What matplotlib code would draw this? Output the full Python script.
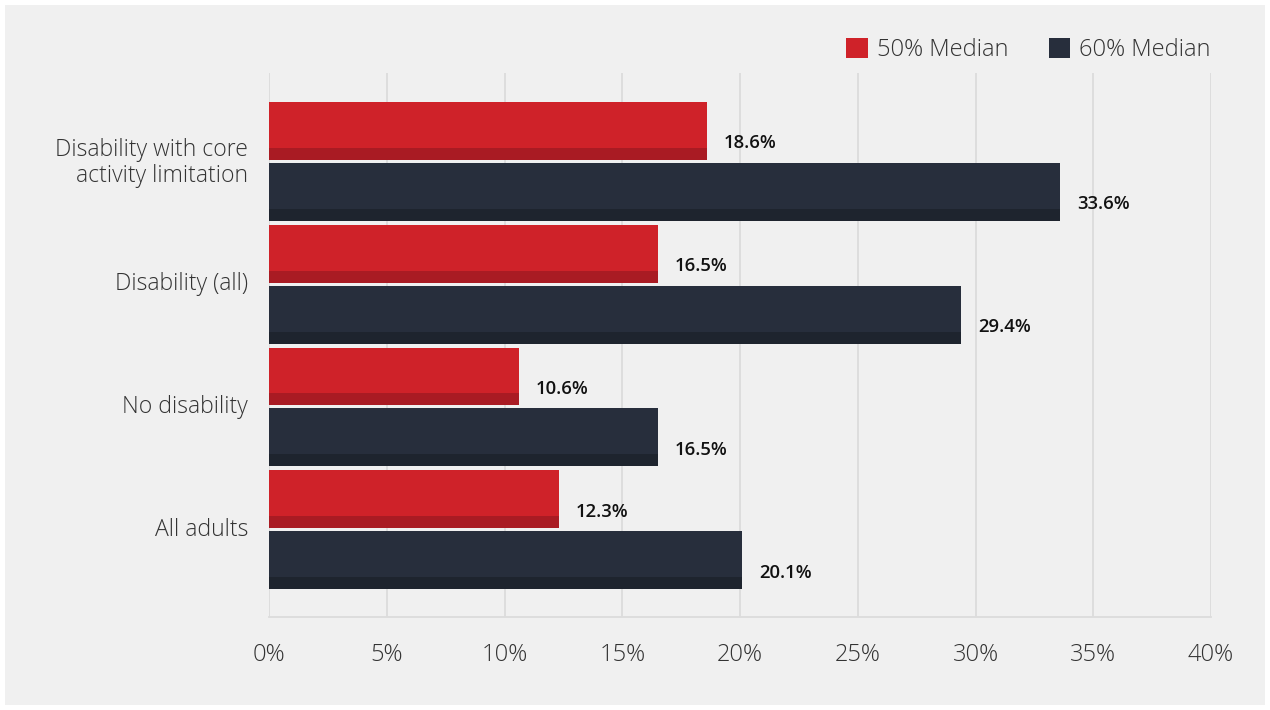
import numpy as np
import matplotlib
matplotlib.use("Agg")
import matplotlib.pyplot as plt
import matplotlib.transforms as mtrans
from matplotlib.patches import Rectangle, Patch

matplotlib.rc('font', family=['Open Sans', 'DejaVu Sans'])

categories = ["Disability with core\nactivity limitation", "Disability (all)",
              "No disability", "All adults"]
median50 = [18.6, 16.5, 10.6, 12.3]
median60 = [33.6, 29.4, 16.5, 20.1]
series_names = ["50% Median", "60% Median"]
xticks = [0, 5, 10, 15, 20, 25, 30, 35, 40]

RED, RED_SH = '#cf2229', '#a91b23'
NAVY, NAVY_SH = '#272e3c', '#1e242e'

fig = plt.figure(figsize=(12.7, 7.1), dpi=100, facecolor='white')
fig.patches.append(Rectangle((5 / 1270, 5 / 710), 1260 / 1270, 700 / 710,
                             transform=fig.transFigure, facecolor='#f0f0f0',
                             edgecolor='none', zorder=-10))
ax = fig.add_axes([269 / 1270, 93 / 710, 942 / 1270, 544 / 710])
ax.set_facecolor('none')

pos = np.arange(len(categories))[::-1].astype(float)
off = 0.248
h = 0.472
sh = 0.098

for vals, yc, col, shc in [(median50, pos + off, RED, RED_SH),
                           (median60, pos - off, NAVY, NAVY_SH)]:
    ax.barh(yc, vals, height=h, color=col, zorder=3)
    ax.barh(yc - h / 2 + sh / 2, vals, height=sh, color=shc, zorder=4)
    for v, y in zip(vals, yc):
        ax.annotate(f"{v:.1f}%", (v, y), xytext=(12, -9), textcoords='offset points',
                    ha='left', va='center', fontsize=13.3, fontweight='semibold',
                    color='#111111')

ax.set_xlim(0, 40)
ax.set_ylim(-0.711, 3.72)
ax.set_xticks(xticks)
ax.set_xticklabels([f"{t}%" for t in xticks], fontsize=17, fontweight='light', color='#333333')
ax.set_yticks(pos)
ax.set_yticklabels(categories, fontsize=16.6, fontweight='light', color='#333333',
                   linespacing=1.13)
ax.tick_params(axis='both', length=0)
ax.tick_params(axis='x', pad=19)
ax.tick_params(axis='y', pad=15)
# nudge labels up a little, as in the original
shift = mtrans.ScaledTranslation(0, 2 / 72, fig.dpi_scale_trans)
for lab in ax.get_yticklabels():
    lab.set_transform(lab.get_transform() + shift)
ax.grid(axis='x', color='#dcdcdc', linewidth=1.3, zorder=0)
for s in ['top', 'right', 'left']:
    ax.spines[s].set_visible(False)
ax.spines['bottom'].set_color('#dcdcdc')
ax.spines['bottom'].set_linewidth(1.3)

handles = [Patch(facecolor=RED, edgecolor='none'), Patch(facecolor=NAVY, edgecolor='none')]
leg = ax.legend(handles, series_names, loc='center right', bbox_to_anchor=(1.0, 1 + 23 / 544),
                ncol=2, frameon=False, fontsize=17, handlelength=0.9, handleheight=0.9,
                handletextpad=0.4, columnspacing=1.7, borderpad=0, borderaxespad=0)
for t in leg.get_texts():
    t.set_color('#333333')
    t.set_fontweight('light')

fig.savefig('out.png', dpi=100, facecolor=fig.get_facecolor())
